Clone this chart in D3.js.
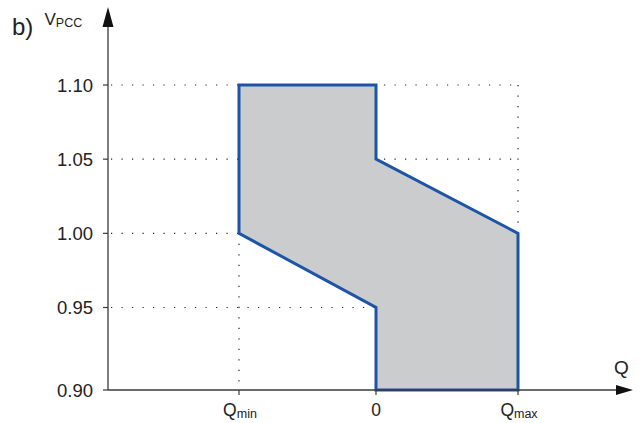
<!DOCTYPE html>
<html><head><meta charset="utf-8">
<script src="https://cdn.jsdelivr.net/npm/d3@7"></script>
<style>body{margin:0;background:#fff}svg{display:block;font-family:"Liberation Sans",Arial,sans-serif}</style>
</head><body><svg id="c" width="641" height="423"></svg>
<script>
const yTicks = [0.90, 0.95, 1.00, 1.05, 1.10];
const yTickLabels = ["0.90", "0.95", "1.00", "1.05", "1.10"];
const xTickValues = [-1, 0, 1];
const xTickNames = [["Q","min"], ["0",""], ["Q","max"]];
const regionQ = [-1, 0, 0, 1, 1, 0, 0, -1];
const regionV = [1.10, 1.10, 1.05, 1.00, 0.90, 0.90, 0.95, 1.00];
// dotted reference lines
const guideH = [[1.10, 1], [1.05, 1], [1.00, -1], [0.95, 0]];
const guideV = [[1, 1.10, 1.00], [-1, 1.00, 0.90]];

const svg = d3.select("#c");
const x = d3.scaleLinear().domain([-1, 0, 1]).range([239, 376, 518]);
const y = d3.scaleLinear().domain([0.90, 0.95, 1.10]).range([390, 307.5, 85]);
const x0 = 108, xEnd = 633, yTop = 7;
const axisCol = "#3a3a3a";

guideH.forEach(([v, q]) => {
  svg.append("line").attr("x1", x0 + 3).attr("x2", x(q)).attr("y1", y(v)).attr("y2", y(v))
    .attr("stroke", "#222").attr("stroke-width", 1.2).attr("stroke-dasharray", "1.2,9.3");
});
guideV.forEach(([q, v1, v2]) => {
  svg.append("line").attr("x1", x(q)).attr("x2", x(q)).attr("y1", y(v1)).attr("y2", y(v2))
    .attr("stroke", "#222").attr("stroke-width", 1.2).attr("stroke-dasharray", "1.2,9.3");
});

const pts = regionQ.map((q, i) => [x(q), y(regionV[i])]);
svg.append("path").attr("d", d3.line()(pts) + "Z")
  .attr("fill", "#cbcccd").attr("stroke", "#1c55a8").attr("stroke-width", 3)
  .attr("stroke-linejoin", "miter");

svg.append("line").attr("x1", x0).attr("x2", xEnd - 16).attr("y1", y(0.90)).attr("y2", y(0.90))
  .attr("stroke", axisCol).attr("stroke-width", 1.3);
svg.append("line").attr("x1", x0).attr("x2", x0).attr("y1", y(0.90)).attr("y2", yTop + 16)
  .attr("stroke", axisCol).attr("stroke-width", 1.3);
svg.append("path").attr("d", `M${xEnd},${y(0.90)} L${xEnd-17},${y(0.90)-5} L${xEnd-17},${y(0.90)+5}Z`).attr("fill", "#111");
svg.append("path").attr("d", `M${x0},${yTop} L${x0-5.5},${yTop+20} L${x0+5.5},${yTop+20}Z`).attr("fill", "#111");

yTicks.forEach((v, i) => {
  svg.append("line").attr("x1", x0 - 5).attr("x2", x0).attr("y1", y(v)).attr("y2", y(v))
    .attr("stroke", axisCol).attr("stroke-width", 1.2);
  svg.append("text").attr("x", 93).attr("y", y(v) + 6.5).attr("text-anchor", "end")
    .attr("font-size", 18.5).attr("fill", "#222").text(yTickLabels[i]);
});
xTickValues.forEach((q, i) => {
  svg.append("line").attr("x1", x(q)).attr("x2", x(q)).attr("y1", y(0.90)).attr("y2", y(0.90) + 5)
    .attr("stroke", axisCol).attr("stroke-width", 1.2);
  const [main, sub] = xTickNames[i];
  const t = svg.append("text").attr("y", 416).attr("font-size", 17.5).attr("fill", "#222")
    .attr("text-anchor", "middle").attr("x", x(q) + (sub ? 1 : 0));
  t.append("tspan").text(main);
  if (sub) t.append("tspan").attr("font-size", 12.5).attr("dy", 1.5).text(sub);
});

svg.append("text").attr("x", 614).attr("y", 374).attr("font-size", 19).attr("fill", "#222").text("Q");
const vl = svg.append("text").attr("x", 44.5).attr("y", 25).attr("font-size", 17).attr("fill", "#222");
vl.append("tspan").text("V");
vl.append("tspan").attr("font-size", 12.5).attr("dy", 1.5).text("PCC");
svg.append("text").attr("x", 12).attr("y", 35).attr("font-size", 24).attr("fill", "#222").text("b)");
</script></body></html>
